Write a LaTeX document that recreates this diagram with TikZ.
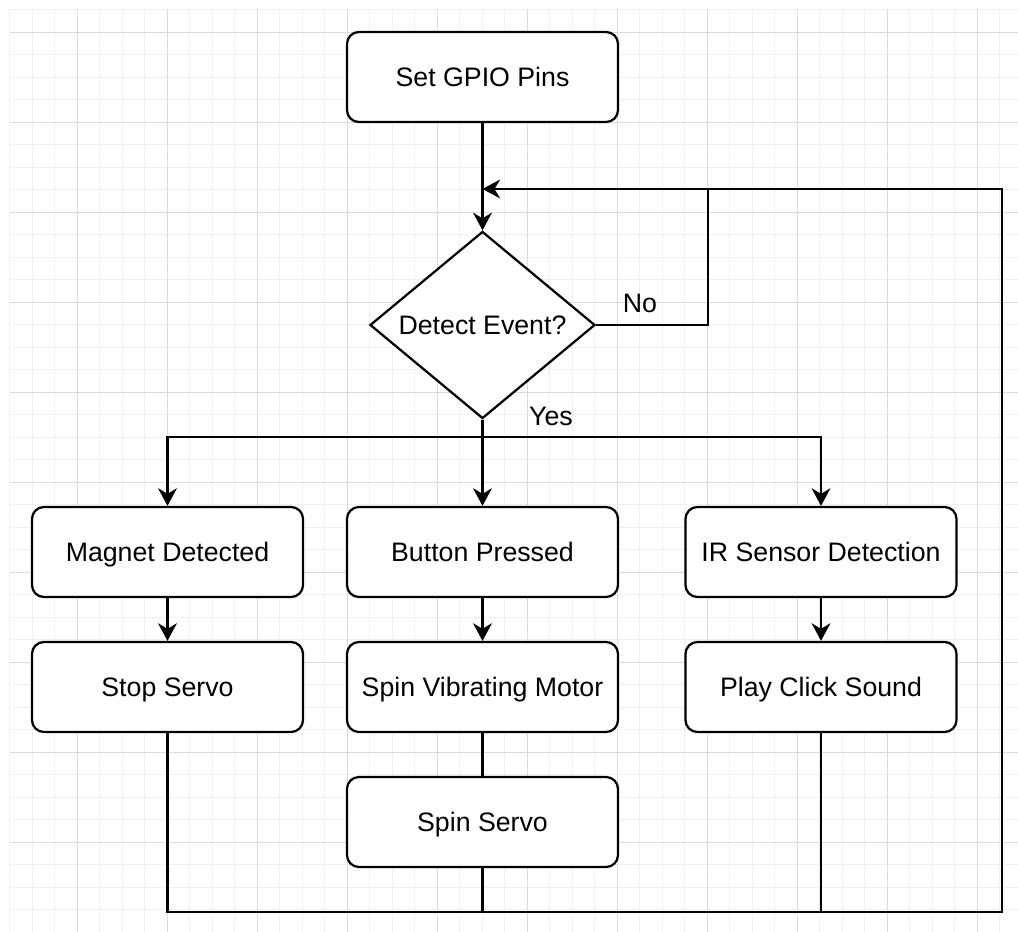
\documentclass[tikz,border=0pt]{standalone}
\usepackage{fontspec}
\setmainfont{Liberation Sans}
\usetikzlibrary{shapes.geometric, arrows.meta}

\begin{document}
\begin{tikzpicture}[x=0.025cm, y=-0.025cm,
        procbox/.style={draw, line width=1.6pt, rounded corners=0.3cm, fill=white,
            minimum width=6.775cm, minimum height=2.25cm, inner sep=0pt,
            text height=13.7pt, text depth=0pt,
            font=\fontsize{19}{23}\selectfont},
        decision/.style={draw, diamond, line width=1.6pt, fill=white, inner sep=0pt,
            minimum width=5.625cm, minimum height=4.45cm,
            text height=13.7pt, text depth=0pt,
            font=\fontsize{19}{23}\selectfont},
        edge/.style={line width=1.6pt},
        arr/.style={edge, -{Stealth[length=0.44cm, width=0.47cm, inset=0.14cm]}},
        lbl/.style={font=\fontsize{19}{23}\selectfont, inner sep=0pt,
            text height=13.7pt, text depth=0pt},
        gridminor/.style={line width=0.5pt, black!6},
        gridmajor/.style={line width=0.6pt, black!14}]
        \useasboundingbox (0,0) rectangle (1018,932);

        % Background grid
        \foreach \i in {0,...,44} \draw[gridminor] (9.5+22.5*\i,9.5) -- (9.5+22.5*\i,932);
        \foreach \j in {0,...,41} \draw[gridminor] (9.5,9.5+22.5*\j) -- (1018,9.5+22.5*\j);
        \foreach \i in {0,...,10} \draw[gridmajor] (77+90*\i,9.5) -- (77+90*\i,932);
        \foreach \j in {0,...,9} \draw[gridmajor] (9.5,32+90*\j) -- (1018,32+90*\j);

        % Define the nodes
        \node[procbox] (gpio) at (482.5,77) {Set GPIO Pins};
        \node[decision] (detect) at (482.5,325) {Detect Event?};
        \node[procbox] (magnet) at (167.5,552) {Magnet Detected};
        \node[procbox] (button) at (482.5,552) {Button Pressed};
        \node[procbox] (ir) at (821,552) {IR Sensor Detection};
        \node[procbox] (stop) at (167.5,687) {Stop Servo};
        \node[procbox] (vibrate) at (482.5,687) {Spin Vibrating Motor};
        \node[procbox] (click) at (821,687) {Play Click Sound};
        \node[procbox] (spin) at (482.5,822) {Spin Servo};

        % Corner points of the connectors
        \coordinate (split) at (482.5,437);
        \coordinate (loopin) at (482.5,189);
        \coordinate (nojoin) at (708,189);
        \coordinate (farright) at (1002,189);
        \coordinate (bottomright) at (1002,912);

        % Draw the edges
        \draw[arr] (gpio) -- (detect);
        \draw[edge] (detect) -- (split);
        \draw[arr] (split) -| (magnet);
        \draw[arr] (split) -- (button);
        \draw[arr] (split) -| (ir);
        \draw[arr] (magnet) -- (stop);
        \draw[arr] (button) -- (vibrate);
        \draw[arr] (ir) -- (click);
        \draw[edge] (vibrate) -- (spin);
        \draw[edge] (detect.east) -| (nojoin);

        % Loop back to the decision
        \draw[arr] (stop.south) |- (bottomright) -- (farright) -- (loopin);
        \draw[edge] (spin.south) -- (spin.south |- bottomright);
        \draw[edge] (click.south) -- (click.south |- bottomright);

        % Add labels
        \node[lbl] (nolbl) at (640,303) {No};
        \node[lbl] (yeslbl) at (551,416) {Yes};
    \end{tikzpicture}
\end{document}
